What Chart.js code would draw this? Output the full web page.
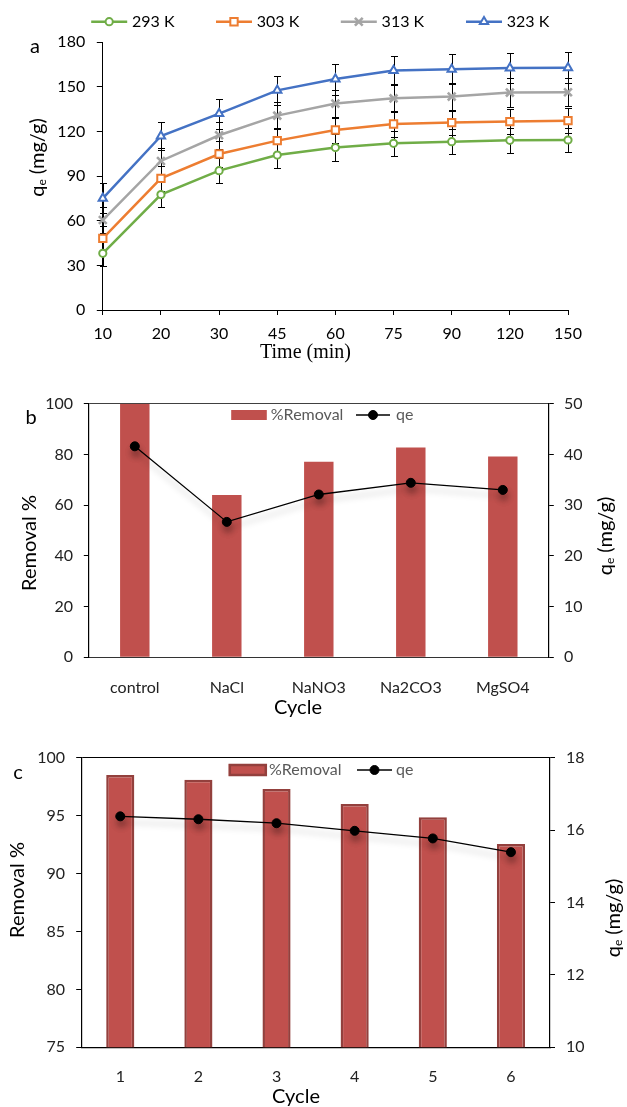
<!DOCTYPE html>
<html><head><meta charset="utf-8">
<script src="https://cdn.jsdelivr.net/npm/chart.js@4.4.1/dist/chart.umd.min.js"></script>
<style>
html,body{margin:0;padding:0;background:#fff;}
body{width:627px;height:1107px;position:relative;overflow:hidden;}
canvas{position:absolute;left:0;}
</style></head><body>
<canvas id="ca" width="627" height="370" style="top:0"></canvas>
<canvas id="cb" width="627" height="360" style="top:370px"></canvas>
<canvas id="cc" width="627" height="377" style="top:730px"></canvas>
<script>
// ---------- data ----------
const timeLabels = ['10','20','30','45','60','75','90','120','150'];
const q293 = [38.1, 77.6, 93.7, 104.2, 109.2, 112.1, 113.2, 114.1, 114.3];
const q303 = [48.2, 88.5, 104.9, 113.9, 121.0, 125.1, 126.0, 126.7, 127.3];
const q313 = [60.5, 100.2, 117.5, 130.7, 138.8, 142.3, 143.5, 146.2, 146.4];
const q323 = [75.1, 117.0, 132.0, 147.7, 155.3, 161.0, 161.8, 162.7, 162.9];
const err293 = [8.5, 8.6, 8.5, 8.5, 9.0, 8.3, 8.5, 8.4, 8.3];
const err303 = [8.5, 8.5, 8.5, 8.7, 8.8, 8.5, 8.6, 8.6, 8.5];
const err313 = [9.0, 9.0, 9.2, 9.3, 9.4, 9.4, 9.4, 9.5, 9.5];
const err323 = [10.0, 9.7, 10.0, 9.7, 10.4, 9.9, 10.0, 10.3, 10.4];

const ionLabels = ['control', 'NaCl', 'NaNO3', 'Na2CO3', 'MgSO4'];
const ionRemoval = [100, 64.0, 77.1, 82.7, 79.2];
const ionQe = [41.6, 26.7, 32.1, 34.4, 33.0];

const cycleLabels = ['1', '2', '3', '4', '5', '6'];
const cycleRemoval = [98.5, 98.1, 97.3, 96.0, 94.85, 92.55];
const cycleQe = [16.38, 16.30, 16.19, 15.98, 15.77, 15.39];

// ---------- styling helpers ----------
const FONT = "Lato, 'Open Sans', 'Liberation Sans', sans-serif";
Chart.defaults.font.family = FONT;
Chart.defaults.font.size = 16;
Chart.defaults.color = '#000';
Chart.defaults.animation = false;

function drawMarker(ctx, style, r, x, y) {
  ctx.beginPath();
  if (style === 'circle') { ctx.arc(x, y, r, 0, Math.PI * 2); ctx.closePath(); ctx.fill(); ctx.stroke(); }
  else if (style === 'rect') { const s = Math.SQRT1_2 * r; ctx.rect(x - s, y - s, 2 * s, 2 * s); ctx.fill(); ctx.stroke(); }
  else if (style === 'triangle') {
    let a = 0; ctx.moveTo(x + Math.sin(a) * r, y - Math.cos(a) * r);
    a += 2 * Math.PI / 3; ctx.lineTo(x + Math.sin(a) * r, y - Math.cos(a) * r);
    a += 2 * Math.PI / 3; ctx.lineTo(x + Math.sin(a) * r, y - Math.cos(a) * r);
    ctx.closePath(); ctx.fill(); ctx.stroke();
  } else if (style === 'crossRot') {
    const s = Math.SQRT1_2 * r;
    ctx.moveTo(x - s, y - s); ctx.lineTo(x + s, y + s);
    ctx.moveTo(x - s, y + s); ctx.lineTo(x + s, y - s); ctx.stroke();
  }
}

function textsPlugin(items) {
  return { id: 'freeTexts', afterDraw(chart) {
    const ctx = chart.ctx;
    items.forEach(it => {
      ctx.save();
      ctx.translate(it.x, it.y);
      if (it.rot) ctx.rotate(it.rot * Math.PI / 180);
      ctx.fillStyle = it.color || '#000';
      ctx.textBaseline = 'middle'; ctx.textAlign = 'left';
      let total = 0; const w = [];
      it.segs.forEach((s, i) => { ctx.font = s.font; w[i] = ctx.measureText(s.t).width; total += w[i]; });
      let cx = -total / 2;
      it.segs.forEach((s, i) => { ctx.font = s.font; ctx.fillText(s.t, cx, s.dy || 0); cx += w[i]; });
      ctx.restore();
    });
  }};
}

function legendPlugin(y, items, textColor) {
  return { id: 'customLegend', afterDraw(chart) {
    const ctx = chart.ctx;
    items.forEach(it => {
      const ds = chart.data.datasets[it.ds];
      ctx.save();
      if (it.kind === 'bar') {
        ctx.fillStyle = ds.backgroundColor;
        ctx.fillRect(it.x, y - it.h / 2, it.w, it.h);
        if (ds.borderWidth) { ctx.strokeStyle = ds.borderColor; ctx.lineWidth = ds.borderWidth; ctx.strokeRect(it.x + 1, y - it.h / 2 + 1, it.w - 2, it.h - 2); }
      } else {
        ctx.strokeStyle = ds.borderColor; ctx.lineWidth = ds.borderWidth;
        ctx.beginPath(); ctx.moveTo(it.x, y); ctx.lineTo(it.x + it.w, y); ctx.stroke();
        ctx.fillStyle = ds.pointBackgroundColor; ctx.strokeStyle = ds.pointBorderColor; ctx.lineWidth = ds.pointBorderWidth;
        drawMarker(ctx, ds.pointStyle, ds.pointRadius, it.x + it.w / 2, y);
      }
      ctx.font = '16px ' + FONT; ctx.fillStyle = textColor; ctx.textBaseline = 'middle'; ctx.textAlign = 'left';
      ctx.fillText(ds.label, it.tx, y);
      ctx.restore();
    });
  }};
}

const errorBars = { id: 'errorBars', beforeDatasetsDraw(chart) {
  const ctx = chart.ctx, ys = chart.scales.y, cap = 3.5;
  ctx.save(); ctx.strokeStyle = '#000'; ctx.lineWidth = 1;
  chart.data.datasets.forEach((ds, i) => {
    if (!ds.errors) return;
    chart.getDatasetMeta(i).data.forEach((pt, j) => {
      const v = ds.data[j], e = ds.errors[j];
      const px = Math.round(pt.x) + 0.5;
      const t = Math.round(ys.getPixelForValue(v + e)) + 0.5, b = Math.round(ys.getPixelForValue(v - e)) + 0.5;
      ctx.beginPath();
      ctx.moveTo(px, t); ctx.lineTo(px, b);
      ctx.moveTo(px - cap, t); ctx.lineTo(px + cap, t);
      ctx.moveTo(px - cap, b); ctx.lineTo(px + cap, b);
      ctx.stroke();
    });
  });
  ctx.restore();
}};

const lineShadow = { id: 'lineShadow',
  beforeDatasetDraw(chart, args) {
    if (args.meta.type !== 'line') return;
    const ctx = chart.ctx; ctx.save();
    ctx.shadowColor = 'rgba(0,0,0,0.28)'; ctx.shadowBlur = 6; ctx.shadowOffsetY = 6; ctx.shadowOffsetX = 1;
  },
  afterDatasetDraw(chart, args) { if (args.meta.type === 'line') chart.ctx.restore(); }
};

function fixW(w) { return s => { s.width = w; s.paddingTop = 0; s.paddingBottom = 0; }; }
function fixH(h) { return s => { s.height = h; s.paddingLeft = 0; s.paddingRight = 0; }; }

const qeSegs = (size) => [
  { t: 'q', font: size + 'px ' + FONT },
  { t: 'e', font: Math.round(size * 0.62) + 'px ' + FONT, dy: 4 },
  { t: ' (mg/g)', font: size + 'px ' + FONT }
];

// ---------- chart a ----------
function lineDs(label, data, errors, color, style, r, bw) {
  return { label, data, errors, borderColor: color, backgroundColor: color, borderWidth: 2.5,
    pointStyle: style, pointRadius: r, pointBorderWidth: bw, pointBackgroundColor: '#fff',
    pointBorderColor: color, tension: 0, fill: false };
}
new Chart(document.getElementById('ca'), {
  type: 'line',
  data: { labels: timeLabels, datasets: [
    lineDs('293 K', q293, err293, '#70AD47', 'circle', 3.6, 2),
    lineDs('303 K', q303, err303, '#ED7D31', 'rect', 5.2, 2),
    lineDs('313 K', q313, err313, '#A5A5A5', 'crossRot', 5.5, 2.6),
    lineDs('323 K', q323, err323, '#4472C4', 'triangle', 4.8, 2)
  ]},
  options: {
    responsive: false,
    layout: { padding: { top: 42.3, right: 59, left: 0, bottom: 0 } },
    plugins: { legend: { display: false }, tooltip: { enabled: false } },
    scales: {
      x: { offset: false, grid: { display: true, drawOnChartArea: false, tickLength: 5, color: '#000' },
           border: { color: '#000', width: 1 }, ticks: { padding: 9.7, maxRotation: 0, autoSkip: false, color: '#000' },
           afterFit: fixH(60) },
      y: { min: 0, max: 180, ticks: { stepSize: 30, padding: 11.6, color: '#000' },
           grid: { drawOnChartArea: false, tickLength: 6, color: '#000' }, border: { color: '#000', width: 1 },
           afterFit: fixW(102.8) }
    }
  },
  plugins: [errorBars,
    legendPlugin(21.7, [
      { ds: 0, x: 91.2, w: 36, tx: 132 }, { ds: 1, x: 216, w: 36, tx: 256.8 },
      { ds: 2, x: 340.8, w: 36, tx: 381.6 }, { ds: 3, x: 466, w: 36, tx: 506.8 }], '#000'),
    textsPlugin([
      { x: 35, y: 47, segs: [{ t: 'a', font: '20px ' + FONT }] },
      { x: 38, y: 157.5, rot: -90, segs: qeSegs(20) },
      { x: 305.5, y: 352.7, segs: [{ t: 'Time (min)', font: "20px 'Liberation Serif', 'Times New Roman', serif" }] }
    ])]
});

// ---------- chart b ----------
new Chart(document.getElementById('cb'), {
  type: 'bar',
  data: { labels: ionLabels, datasets: [
    { label: '%Removal', data: ionRemoval, backgroundColor: '#C0504D', borderWidth: 0,
      barPercentage: 0.32, categoryPercentage: 1, yAxisID: 'y', order: 1 },
    { type: 'line', label: 'qe', data: ionQe, borderColor: '#000', backgroundColor: '#000', borderWidth: 1.3,
      pointStyle: 'circle', pointRadius: 4.5, pointBorderWidth: 1, pointBackgroundColor: '#000', pointBorderColor: '#000',
      yAxisID: 'y1', order: 0, tension: 0 }
  ]},
  options: {
    responsive: false,
    layout: { padding: { top: 33.7, right: 0, left: 0, bottom: 0 } },
    plugins: { legend: { display: false }, tooltip: { enabled: false } },
    scales: {
      x: { grid: { display: false }, border: { color: '#333', width: 1, dash: [4, 3] },
           ticks: { padding: 13.1, color: '#222', maxRotation: 0, autoSkip: false }, afterFit: fixH(72.7) },
      y: { position: 'left', min: 0, max: 100, ticks: { stepSize: 20, padding: 10.8, color: '#222' },
           grid: { drawOnChartArea: true, tickLength: 5, tickColor: '#000',
                   color: c => (c.tick && c.tick.value === 100) ? '#404040' : 'rgba(0,0,0,0)' },
           border: { color: '#000', width: 1.2 }, afterFit: fixW(88.8) },
      y1: { position: 'right', min: 0, max: 50, ticks: { stepSize: 10, padding: 10.2, color: '#222' },
            grid: { drawOnChartArea: false, tickLength: 5, color: '#000' },
            border: { color: '#000', width: 1.2 }, afterFit: fixW(78.2) }
    }
  },
  plugins: [lineShadow,
    legendPlugin(45, [{ ds: 0, kind: 'bar', x: 231.2, w: 35.6, h: 10, tx: 270.8 },
                      { ds: 1, x: 356, w: 34, tx: 396 }], '#595959'),
    textsPlugin([
      { x: 31, y: 48, segs: [{ t: 'b', font: '20px ' + FONT }] },
      { x: 30, y: 173, rot: -90, segs: [{ t: 'Removal %', font: '20px ' + FONT }] },
      { x: 606, y: 166, rot: -90, segs: qeSegs(20) },
      { x: 298, y: 338, segs: [{ t: 'Cycle', font: '20px ' + FONT }] }
    ])]
});

// ---------- chart c ----------
new Chart(document.getElementById('cc'), {
  type: 'bar',
  data: { labels: cycleLabels, datasets: [
    { label: '%Removal', data: cycleRemoval, backgroundColor: '#C0504D', borderColor: '#93403D', borderWidth: 2.5,
      borderSkipped: false, barPercentage: 0.36, categoryPercentage: 1, yAxisID: 'y', order: 1 },
    { type: 'line', label: 'qe', data: cycleQe, borderColor: '#000', backgroundColor: '#000', borderWidth: 1.3,
      pointStyle: 'circle', pointRadius: 4.5, pointBorderWidth: 1, pointBackgroundColor: '#000', pointBorderColor: '#000',
      yAxisID: 'y1', order: 0, tension: 0 }
  ]},
  options: {
    responsive: false,
    layout: { padding: { top: 27.7, right: 0, left: 0, bottom: 0 } },
    plugins: { legend: { display: false }, tooltip: { enabled: false } },
    scales: {
      x: { grid: { display: false }, border: { color: '#000', width: 1.2 },
           ticks: { padding: 12.4, color: '#222', maxRotation: 0, autoSkip: false }, afterFit: fixH(59.7) },
      y: { position: 'left', min: 75, max: 100, ticks: { stepSize: 5, padding: 11.2, color: '#222' },
           grid: { drawOnChartArea: true, tickLength: 5, tickColor: '#000',
                   color: c => (c.tick && c.tick.value === 100) ? '#000' : 'rgba(0,0,0,0)' },
           border: { color: '#000', width: 1.2 }, afterFit: fixW(81.2) },
      y1: { position: 'right', min: 10, max: 18, ticks: { stepSize: 2, padding: 11, color: '#222' },
            grid: { drawOnChartArea: false, tickLength: 5, color: '#000' },
            border: { color: '#000', width: 1.2 }, afterFit: fixW(77) }
    }
  },
  plugins: [lineShadow,
    legendPlugin(40, [{ ds: 0, kind: 'bar', x: 228.8, w: 38, h: 12, tx: 269 },
                      { ds: 1, x: 357, w: 35, tx: 396 }], '#595959'),
    textsPlugin([
      { x: 18, y: 43, segs: [{ t: 'c', font: '20px ' + FONT }] },
      { x: 18, y: 160, rot: -90, segs: [{ t: 'Removal %', font: '20px ' + FONT }] },
      { x: 614, y: 188, rot: -90, segs: qeSegs(20) },
      { x: 296, y: 366.7, segs: [{ t: 'Cycle', font: '20px ' + FONT }] }
    ])]
});
</script>
</body></html>
